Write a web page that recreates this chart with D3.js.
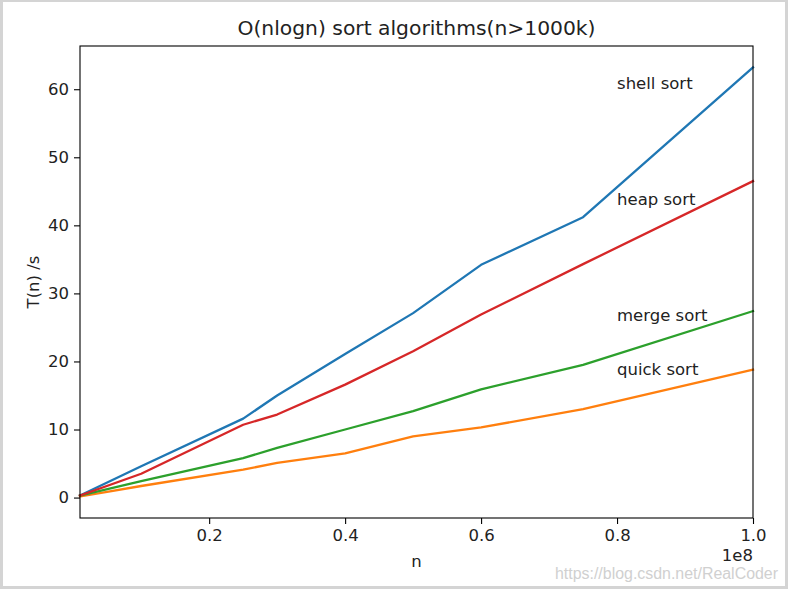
<!DOCTYPE html>
<html><head><meta charset="utf-8">
<script src="https://cdn.jsdelivr.net/npm/d3@7"></script>
<style>
html,body{margin:0;padding:0;background:#fff;}
svg{display:block;}
text{font-family:"DejaVu Sans",sans-serif;fill:#000;}
</style></head>
<body><svg id="c" width="788" height="591"></svg>
<script>
// Data
const nValues = [1e6, 1e7, 2.5e7, 3e7, 4e7, 5e7, 6e7, 7.5e7, 1e8];
const shellSort = [0.3, 4.6, 11.6, 15.0, 21.1, 27.1, 34.2, 41.2, 63.2];
const quickSort = [0.15, 1.7, 4.1, 5.1, 6.5, 9.0, 10.3, 13.0, 18.8];
const mergeSort = [0.3, 2.4, 5.8, 7.3, 10.0, 12.7, 15.9, 19.5, 27.4];
const heapSort  = [0.3, 3.5, 10.7, 12.2, 16.6, 21.5, 26.9, 34.3, 46.5];
const seriesNames = ["shell sort", "quick sort", "merge sort", "heap sort"];
const seriesColors = ["#1f77b4", "#ff7f0e", "#2ca02c", "#d62728"];
const labelX = 0.8e8;
const labelY = [60, 18, 26, 43];
const xTicks = [0.2e8, 0.4e8, 0.6e8, 0.8e8, 1.0e8];
const yTicks = [0, 10, 20, 30, 40, 50, 60];
const title = "O(nlogn) sort algorithms(n>1000k)";
const xLabel = "n";
const yLabel = "T(n) /s";
const offsetText = "1e8";
const watermark = "https://blog.csdn.net/RealCoder";

const series = [shellSort, quickSort, mergeSort, heapSort];

const svg = d3.select("#c");
const L = 80, R = 753, T = 46, B = 518;

// frame border
svg.append("rect").attr("x", 1.5).attr("y", 0.5).attr("width", 785).attr("height", 587)
  .attr("fill", "none").attr("stroke", "#d4d4d4").attr("stroke-width", 3);

const x = d3.scaleLinear().domain(d3.extent(nValues)).range([L, R]);
const all = series.flat();
const ymin = d3.min(all), ymax = d3.max(all), m = (ymax - ymin) * 0.05;
const y = d3.scaleLinear().domain([ymin - m, ymax + m]).range([B, T]);

const line = d3.line().x((d, i) => x(nValues[i])).y(d => y(d));
const g = svg.append("g");
series.forEach((s, k) => {
  g.append("path").datum(s).attr("d", line).attr("fill", "none")
    .attr("stroke", seriesColors[k]).attr("stroke-width", 2.3)
    .attr("stroke-linejoin", "round").attr("stroke-linecap", "square");
});

// labels
seriesNames.forEach((nm, k) => {
  svg.append("text").attr("x", x(labelX)).attr("y", y(labelY[k]))
    .attr("font-size", 16.5).text(nm).style("fill", "#222");
});

// axes
const xa = svg.append("g").attr("transform", `translate(0,${B})`)
  .call(d3.axisBottom(x).tickValues(xTicks).tickSize(6).tickPadding(5)
    .tickFormat(d => (d / 1e8).toFixed(1)));
const ya = svg.append("g").attr("transform", `translate(${L},0)`)
  .call(d3.axisLeft(y).tickValues(yTicks).tickSize(6).tickPadding(5));
[xa, ya].forEach(a => {
  a.select(".domain").remove();
  a.selectAll("line").attr("stroke", "#000").attr("stroke-width", 1.1);
  a.selectAll("text").attr("font-size", 16.5).style("font-family", "DejaVu Sans").style("fill", "#222");
});

svg.append("rect").attr("x", L).attr("y", T).attr("width", R - L).attr("height", B - T)
  .attr("fill", "none").attr("stroke", "#000").attr("stroke-width", 1.1);

svg.append("text").attr("x", (L + R) / 2).attr("y", 35).attr("text-anchor", "middle")
  .attr("font-size", 20.3).text(title).style("fill", "#222");
svg.append("text").attr("x", (L + R) / 2).attr("y", 567).attr("text-anchor", "middle")
  .attr("font-size", 16.5).text(xLabel).style("fill", "#222");
svg.append("text").attr("transform", `translate(39,${(T + B) / 2}) rotate(-90)`)
  .attr("text-anchor", "middle").attr("font-size", 16.5).text(yLabel).style("fill", "#222");
svg.append("text").attr("x", R).attr("y", 561).attr("text-anchor", "end")
  .attr("font-size", 16.5).text(offsetText).style("fill", "#222");
svg.append("text").attr("x", 778).attr("y", 579).attr("text-anchor", "end")
  .attr("font-size", 16).style("font-family", "'Liberation Sans Narrow','Liberation Sans',sans-serif")
  .attr("textLength", 223).attr("lengthAdjust", "spacingAndGlyphs")
  .style("fill", "#d0d0d0").text(watermark);
</script></body></html>
